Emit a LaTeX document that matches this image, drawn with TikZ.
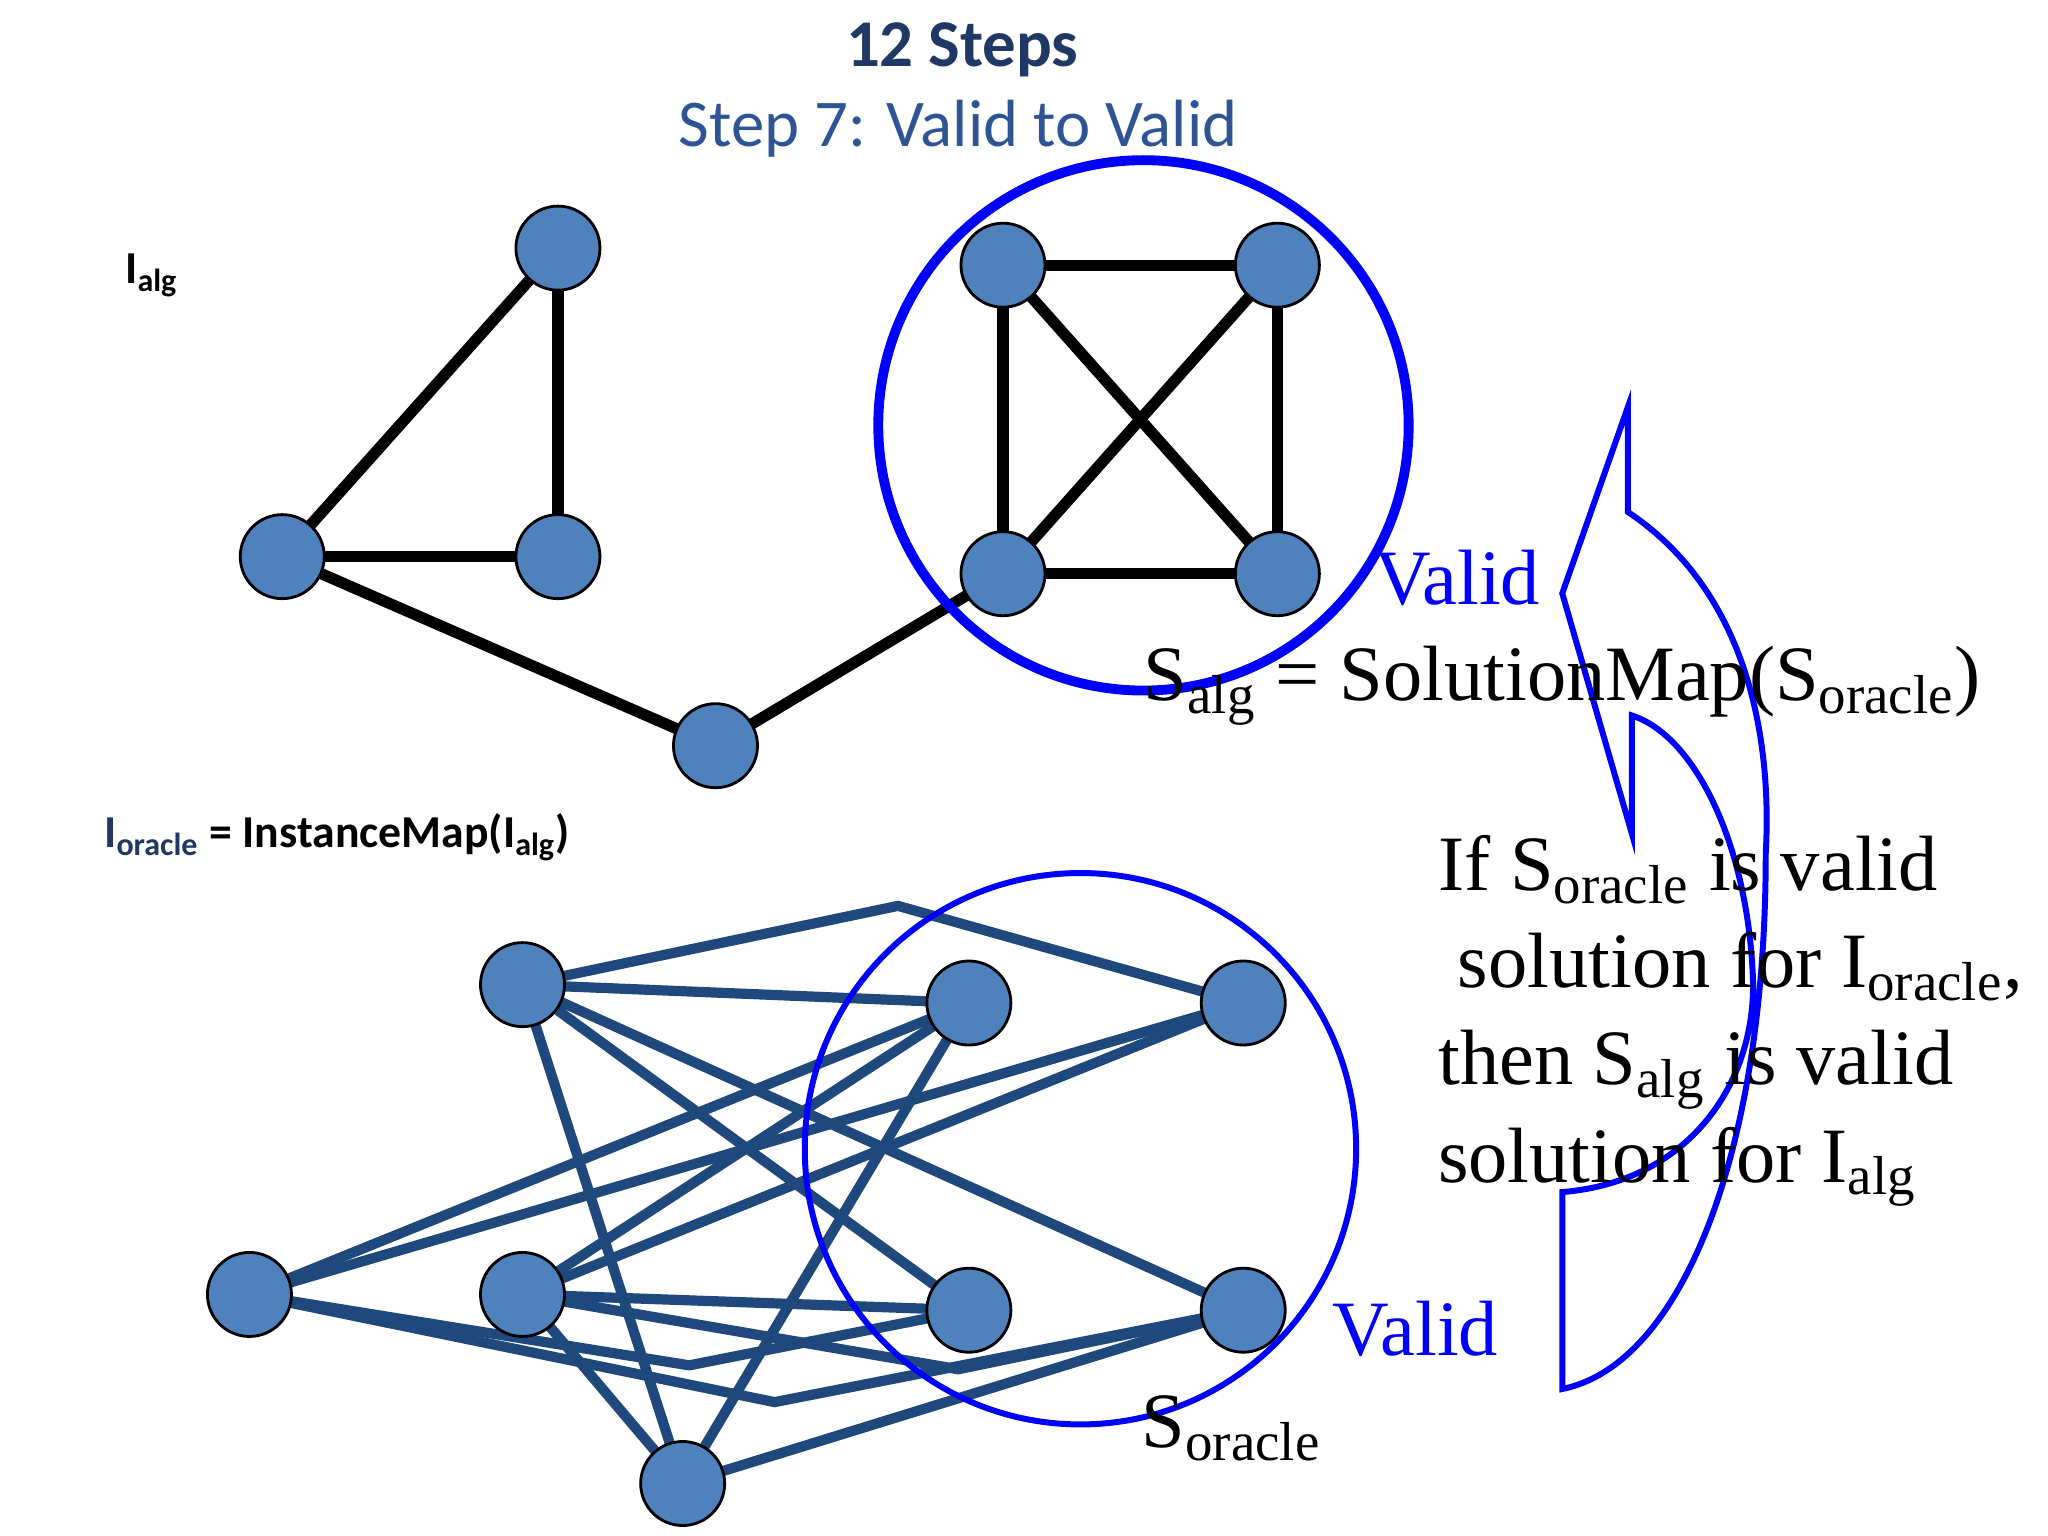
\documentclass[tikz,border=0pt]{standalone}
\usepackage{fontspec}
\setmainfont{Liberation Serif}
\newfontfamily\serf{Liberation Serif}
\newfontfamily\calfnt{Carlito}
\begin{document}
\begin{tikzpicture}[x=0.013128cm,y=-0.013128cm,
  vx/.style={circle,draw=black,line width=0.8pt,fill={rgb,255:red,79;green,129;blue,189},minimum size=0.84cm,inner sep=0pt},
  te/.style={line width=3.2pt,black},
  be/.style={line width=2.9pt,draw={rgb,255:red,31;green,73;blue,125}},
  big/.style={font=\serf\fontsize{22.3}{27.6}\selectfont}]
\useasboundingbox (0,0) rectangle (1560,1170);
\definecolor{ttl}{RGB}{31,56,100}
\definecolor{stp}{RGB}{46,84,150}
\node[font=\calfnt\bfseries\fontsize{19}{22}\selectfont,text=ttl] (t1) at (733,38) {12 Steps};
\node[font=\calfnt\fontsize{19}{22}\selectfont,text=stp] (t2) at (730,98) {Step 7: Valid to Valid};
\node[font=\calfnt\bfseries\fontsize{13}{15}\selectfont,anchor=west] (ia) at (86,210) {I\textsubscript{alg}};
\node[font=\calfnt\bfseries\fontsize{13}{15}\selectfont,anchor=west] (io) at (70,638) {\textcolor{ttl}{I\textsubscript{oracle}} = InstanceMap(I\textsubscript{alg})};
% top graph
\foreach \n/\x/\y in {a/425/189,b/215/424,c/425/424,d/545/568,e/764/202,f/973/202,g/764/437,h/973/437}
  \coordinate (\n) at (\x,\y);
\foreach \u/\v in {a/b,a/c,b/c,b/d,d/g,e/f,e/g,e/h,f/g,f/h,g/h}
  \draw[te] (\u) -- (\v);
\foreach \n/\x/\y in {a/425/189,b/215/424,c/425/424,d/545/568,e/764/202,f/973/202,g/764/437,h/973/437}
  \node[vx] (v\n) at (\x,\y) {};
\draw[blue,line width=2.8pt] (871,324) circle [radius=202];
% bottom graph
\foreach \n/\x/\y in {A/398/750,B/738/764,C/947/764,D/190/986,E/398/986,F/738/998,G/947/998,H/520/1130}
  \coordinate (\n) at (\x,\y);
\coordinate (p1) at (684,690);
\coordinate (p2) at (525,1040);
\coordinate (p3) at (730,1043);
\coordinate (p4) at (590,1068);
\foreach \u/\v in {A/B,A/F,A/G,A/H,B/D,B/E,B/H,C/D,C/E,E/F,E/H,H/G}
  \draw[be] (\u) -- (\v);
\draw[be] (A) -- (p1) -- (C);
\draw[be] (D) -- (p2) -- (F);
\draw[be] (E) -- (p3) -- (G);
\draw[be] (D) -- (p4) -- (G);
\foreach \n/\x/\y in {A/398/750,B/738/764,C/947/764,D/190/986,E/398/986,F/738/998,G/947/998,H/520/1130}
  \node[vx] (n\n) at (\x,\y) {};
\draw[blue,line width=1.7pt] (823,875) circle [radius=210];
% arrow
\draw[blue,line width=1.7pt] (1240,310) -- (1240,390)
  .. controls (1330,450) and (1350,560) .. (1345,650)
  .. controls (1345,880) and (1280,1040) .. (1190,1058)
  -- (1190,908)
  .. controls (1290,900) and (1340,820) .. (1335,740)
  .. controls (1330,640) and (1290,560) .. (1243,545)
  -- (1243,635) -- (1190,452) -- cycle;
% texts
\node[big,text=blue] (v1) at (1110,440) {Valid};
\node[big] (sm) at (1190,522) {S\textsubscript{alg} = SolutionMap(S\textsubscript{oracle})};
\node[big,anchor=north west,align=left,inner sep=0pt] (if) at (1095,636)
  {If S\textsubscript{oracle} is valid\\ \ solution for I\textsubscript{oracle},\\then S\textsubscript{alg} is valid\\solution for I\textsubscript{alg}};
\node[big,text=blue] (v2) at (1078,1012) {Valid};
\node[big] (so) at (938,1088) {S\textsubscript{oracle}};
\end{tikzpicture}
\end{document}
